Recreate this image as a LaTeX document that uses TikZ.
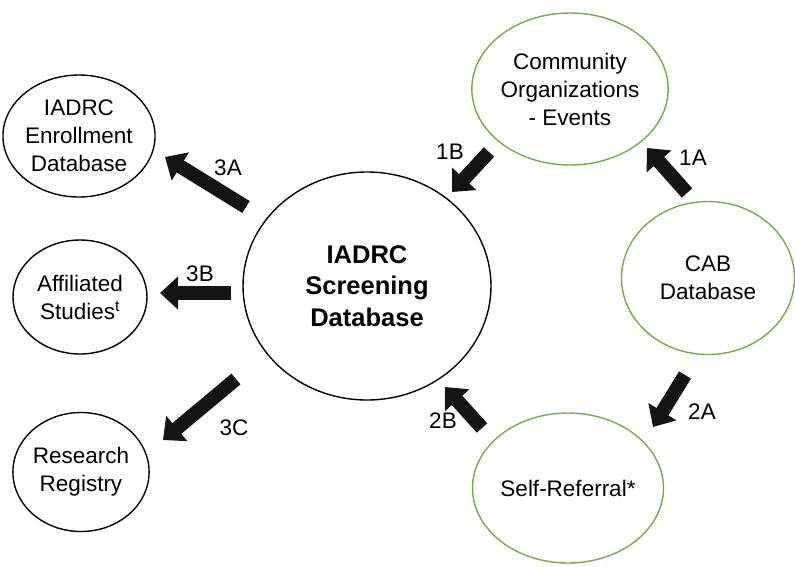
\documentclass[tikz,border=0pt]{standalone}
\usepackage{fontspec}
\setmainfont{Liberation Sans}
\usetikzlibrary{arrows.meta,shapes.geometric}
\definecolor{srcgreen}{RGB}{112,173,71}

\begin{document}
\begin{tikzpicture}[x=1pt, y=-1pt,
    font=\fontsize{22.5}{28}\selectfont,
    db/.style={draw, ellipse, line width=1.4pt, inner sep=0pt, align=center},
    src/.style={db, draw=srcgreen},
    flow/.style={line width=14pt, black!92, -{Triangle[length=18pt, width=32pt]}}]
      \useasboundingbox (0,0) rectangle (795,566);
      % databases in the middle and on the left
      \node[db, minimum width=248pt, minimum height=228pt, font=\fontsize{25.5}{31.5}\selectfont\bfseries] (screen) at (367,286) {IADRC\\Screening\\Database};
      \node[db, minimum width=142pt, minimum height=122pt] (enroll) at (79,136) {IADRC\\Enrollment\\Database};
      \node[db, minimum width=134pt, minimum height=114pt] (affil) at (80,297) {Affiliated\\Studies\textsuperscript{t}};
      \node[db, minimum width=132pt, minimum height=119pt] (registry) at (81,472) {Research\\Registry};
      % recruitment sources on the right
      \node[src, minimum width=174pt, minimum height=152pt] (community) at (570,89) {Community\\Organizations\\- Events};
      \node[src, minimum width=173pt, minimum height=153pt] (cab) at (708,278) {CAB\\Database};
      \node[src, minimum width=177pt, minimum height=150pt] (selfref) at (568,488) {Self-Referral*};
      % arrow ends
      \coordinate (t1A) at (687,193); \coordinate (h1A) at (647,148);
      \coordinate (t1B) at (489,152); \coordinate (h1B) at (452,192);
      \coordinate (t2A) at (685,375); \coordinate (h2A) at (653,427);
      \coordinate (t2B) at (482,428); \coordinate (h2B) at (445,387);
      \coordinate (t3A) at (246,207); \coordinate (h3A) at (165,157);
      \coordinate (t3B) at (231,293); \coordinate (h3B) at (160,293);
      \coordinate (t3C) at (236,379); \coordinate (h3C) at (163,440);
      \draw[flow] (t1A) -- (h1A); \draw[flow] (t1B) -- (h1B);
      \draw[flow] (t2A) -- (h2A); \draw[flow] (t2B) -- (h2B);
      \draw[flow] (t3A) -- (h3A); \draw[flow] (t3B) -- (h3B);
      \draw[flow] (t3C) -- (h3C);
      \node (l1A) at (693,158) {1A};
      \node (l1B) at (450,152) {1B};
      \node (l2A) at (702,412) {2A};
      \node (l2B) at (443,421) {2B};
      \node (l3A) at (228,168) {3A};
      \node (l3B) at (200,274) {3B};
      \node (l3C) at (234,428) {3C};
    \end{tikzpicture}
\end{document}
